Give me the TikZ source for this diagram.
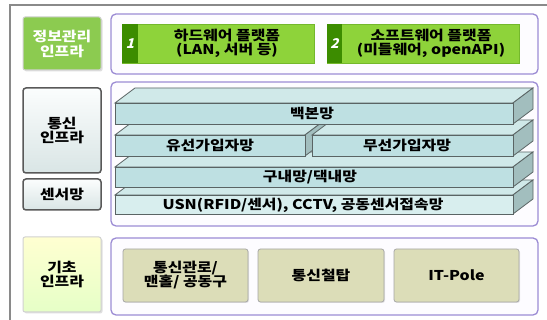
\documentclass[tikz,border=0pt]{standalone}
\usepackage{fontspec}
\setmainfont{Noto Sans CJK KR}[FakeStretch=1.18]
\newfontfamily\slantkr{Noto Sans CJK KR}[FakeSlant=0.25]
\usetikzlibrary{shadows}
\definecolor{frameP}{HTML}{9C8CD4}
\definecolor{frameFill}{HTML}{FDFCFF}
\definecolor{gLabel}{HTML}{8CCB50}
\definecolor{gBox}{HTML}{8ED33A}
\definecolor{gBoxLine}{HTML}{74B82C}
\definecolor{gStrip}{HTML}{3C8C00}
\definecolor{slabFront}{HTML}{BEE0E2}
\definecolor{slabFrontL}{HTML}{D8EEEE}
\definecolor{slabTop}{HTML}{D0E9E9}
\definecolor{slabSide}{HTML}{A2BEBE}
\definecolor{slabLine}{HTML}{5A6464}
\definecolor{khaki}{HTML}{DCDDB8}
\definecolor{outerLine}{HTML}{8A8A8A}
\tikzset{
  txt/.style={font=\bfseries\fontsize{13.5}{15}\selectfont, align=center, inner sep=0pt},
  pframe/.style={draw=frameP, fill=frameFill, line width=1.3pt, rounded corners=5pt},
  lblgreen/.style={txt, text=white, fill=gLabel, draw=black!18, line width=1pt, rounded corners=2pt,
     drop shadow={opacity=0.25, shadow xshift=1.5pt, shadow yshift=-1.5pt}},
  lblgray/.style={txt, top color=white!92!slabTop, bottom color=slabTop!80!gray!60, draw=black!65, line width=1.5pt, rounded corners=3pt},
  lblyellow/.style={txt, top color=yellow!18, bottom color=yellow!55!green!22!white, draw=black!18, line width=1pt, rounded corners=2pt,
     drop shadow={opacity=0.25, shadow xshift=1.5pt, shadow yshift=-1.5pt}},
  gbox/.style={fill=gBox, draw=gBoxLine, line width=0.6pt, inner sep=0pt},
  numtxt/.style={txt, text=white, font=\slantkr\bfseries\fontsize{13.5}{15}\selectfont},
  kbox/.style={txt, fill=khaki, draw=black!35, line width=0.8pt, rounded corners=2.5pt,
     drop shadow={opacity=0.2, shadow xshift=1pt, shadow yshift=-1pt}},
  slabline/.style={draw=slabLine, line width=0.8pt, line join=miter}
}
\newcommand\mkslab[5]{%
  \filldraw[slabline, fill=slabTop] (#1,#2) -- (#1+20,#2-15) -- (#3+20,#2-15) -- (#3,#2) -- cycle;
  \filldraw[slabline, fill=slabSide] (#3,#2) -- (#3+20,#2-15) -- (#3+20,#4-15) -- (#3,#4) -- cycle;
  \filldraw[slabline, fill=#5] (#1,#2) rectangle (#3,#4);
}
\begin{document}
\begin{tikzpicture}[x=1pt,y=-1pt]
\useasboundingbox (0,0) rectangle (547,320);
\fill[white] (0,0) rectangle (547,320);
% outer frame (top and left only)
\draw[outerLine, line width=1.5pt] (10,321) -- (10,5) -- (548,5);

% left labels
\node[lblgreen, minimum width=78pt, minimum height=53pt] (info) at (62,43.5) {정보관리\\[0pt]인프라};
\node[lblgray, minimum width=78pt, minimum height=85pt] (comm) at (62,130.5) {통신\\[-1pt]인프라};
\node[lblgray, minimum width=78pt, minimum height=31pt] (sensor) at (62,194.5) {센서망};
\node[lblyellow, minimum width=78pt, minimum height=75pt] (base) at (62,274.5) {기초\\[-1pt]인프라};

% purple frames
\draw[pframe] (111,14) rectangle (538,74);
\draw[pframe] (111,82) rectangle (538,226);
\draw[pframe] (111,238) rectangle (538,315);

% platform boxes
\node[gbox, minimum width=192pt, minimum height=39pt] (hw) at (218,43.5) {};
\fill[gStrip] (122,24) rectangle (138,63);
\node[numtxt] (n1) at (130,43.5) {1};
\node[txt] (hwt) at (227,43.5) {하드웨어 플랫폼\\[-1.5pt](LAN, 서버 등)};
\node[gbox, minimum width=192pt, minimum height=39pt] (sw) at (423,43.5) {};
\fill[gStrip] (327,24) rectangle (342,63);
\node[numtxt] (n2) at (334.5,43.5) {2};
\node[txt] (swt) at (431,43.5) {소프트웨어 플랫폼\\[-1.5pt](미들웨어, openAPI)};

% network slabs (drawn bottom to top)
\mkslab{115}{195}{513}{214}{slabFrontL}
\node[txt] (usn) at (303,205) {USN(RFID/센서), CCTV, 공동센서접속망};
\mkslab{115}{167}{513}{187}{slabFront}
\node[txt] (home) at (310,177) {구내망/댁내망};
\mkslab{115}{135}{305}{156}{slabFront}
\node[txt] (wired) at (210,145.5) {유선가입자망};
\mkslab{312}{135}{513}{156}{slabFront}
\node[txt] (wless) at (407,145.5) {무선가입자망};
\mkslab{115}{103}{513}{124}{slabFront}
\node[txt] (bb) at (312,113.5) {백본망};

% basic infrastructure boxes
\node[kbox, minimum width=125pt, minimum height=53pt] (duct) at (185.5,275.5) {통신관로/\\[-1pt]맨홀/ 공동구};
\node[kbox, minimum width=126pt, minimum height=53pt] (tower) at (321,275.5) {통신철탑};
\node[kbox, minimum width=125pt, minimum height=53pt] (pole) at (456.5,275.5) {IT-Pole};
\end{tikzpicture}
\end{document}
